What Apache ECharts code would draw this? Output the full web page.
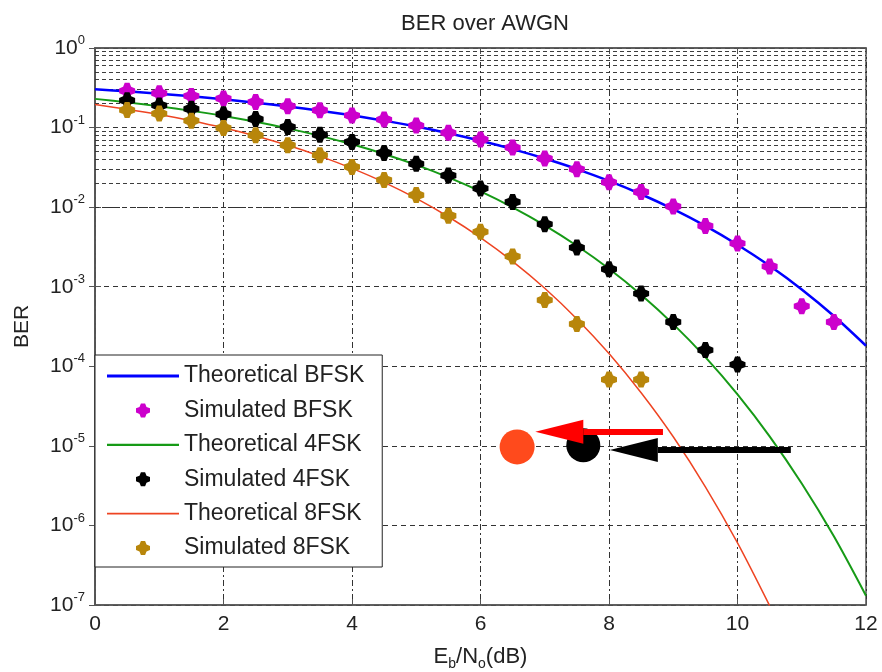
<!DOCTYPE html>
<html><head><meta charset="utf-8">
<script src="https://cdn.jsdelivr.net/npm/echarts@6/dist/echarts.min.js"></script>
<style>html,body{margin:0;padding:0;background:#fff}#c{width:882px;height:672px}</style>
</head><body><div id="c"></div><script>
// ---- data ----
const xTheory = [0,0.5,1,1.5,2,2.5,3,3.5,4,4.5,5,5.5,6,6.5,7,7.5,8,8.5,9,9.5,10,10.5,11,11.5,12];
const theoryBFSK = [0.3033,0.2853,0.2664,0.2467,0.2263,0.2055,0.1844,0.1632,0.1424,0.1222,0.1029,0.0848,0.0683,0.0536,0.0408,0.0301,0.02134,0.01452,0.00943,0.00581,0.003369,0.001831,0.000923,0.000428,0.000181];
const theory4FSK = [0.2294,0.2073,0.1847,0.1621,0.1399,0.1182,0.0977,0.0787,0.0616,0.0466,0.03395,0.02371,0.01579,0.00996,0.005912,0.003274,0.001683,0.000793,0.000339,0.0001304,4.437e-5,1.318e-5,3.37e-6,7.3e-7,1.31e-7];
const x8Theory = [0,0.5,1,1.5,2,2.5,3,3.5,4,4.5,5,5.5,6,6.5,7,7.5,8,8.5,9,9.5,10,10.5];
const theory8FSK = [0.1947,0.1700,0.1456,0.1217,0.0992,0.0783,0.0598,0.0438,0.0307,0.0205,0.01287,0.00757,0.00414,0.00208,0.000955,0.000393,0.0001444,4.65e-5,1.30e-5,3.06e-6,6.04e-7,9.8e-8];

const xSimBFSK = [0.5,1,1.5,2,2.5,3,3.5,4,4.5,5,5.5,6,6.5,7,7.5,8,8.5,9,9.5,10,10.5,11,11.5];
const simBFSK = [0.29,0.27,0.25,0.232,0.21,0.186,0.165,0.142,0.126,0.106,0.086,0.071,0.056,0.041,0.030,0.0205,0.0155,0.0102,0.0058,0.0035,0.0018,0.00057,0.00036];
const xSim4FSK = [0.5,1,1.5,2,2.5,3,3.5,4,4.5,5,5.5,6,6.5,7,7.5,8,8.5,9,9.5,10];
const sim4FSK = [0.22,0.19,0.172,0.147,0.128,0.102,0.081,0.066,0.048,0.035,0.025,0.0172,0.0116,0.0061,0.0031,0.00166,0.00082,0.00036,0.00016,0.000105];
const xSim8FSK = [0.5,1,1.5,2,2.5,3,3.5,4,4.5,5,5.5,6,6.5,7,7.5,8,8.5];
const sim8FSK = [0.166,0.15,0.122,0.099,0.08,0.06,0.045,0.032,0.022,0.0142,0.0078,0.0049,0.0024,0.00068,0.00034,0.000068,0.000068];

const redCircle = [6.57, 9.7e-6];
const blackCircle = [7.60, 1.02e-5];
const redArrow = {from: [8.84, 1.5e-5], to: [7.60, 1.5e-5]};     // 'to' = arrow-head base
const blackArrow = {from: [10.83, 8.9e-6], to: [8.76, 8.9e-6]};

const xTicks = [0, 2, 4, 6, 8, 10, 12];
const yDecades = [1e-7, 1e-6, 1e-5, 1e-4, 1e-3, 1e-2, 1e-1, 1];
const minorMult = [2, 3, 4, 5, 6, 7, 8, 9];

const legendNames = ['Theoretical BFSK','Simulated BFSK','Theoretical 4FSK','Simulated 4FSK','Theoretical 8FSK','Simulated 8FSK'];

// ---- build ----
const zip = (xs, ys) => xs.map((x, i) => [x, ys[i]]);
const minorGrid = [];
yDecades.slice(0, -1).forEach(d => minorMult.forEach(m => minorGrid.push({yAxis: +(d * m).toPrecision(3)})));

const MARK = 'path://M35,0 L65,0 L75,25 L100,35 L100,65 L75,75 L65,100 L35,100 L25,75 L0,65 L0,35 L25,25 Z';
const FONT = 'Liberation Sans';
const TXT = '#222';

function lineSeries(name, xs, ys, color, width) {
  return {name, type: 'line', data: zip(xs, ys), symbol: 'none', smooth: 0.3, z: 3,
    lineStyle: {color, width}, itemStyle: {color}, animation: false, silent: true};
}
function simSeries(name, xs, ys, color) {
  return {name, type: 'scatter', data: zip(xs, ys), symbol: MARK, symbolSize: 16, z: 4,
    itemStyle: {color, opacity: 1}, animation: false, silent: true};
}
function arrow(a, color, z) {
  return {silent: true, z, animation: false, symbol: ['none', 'none'], label: {show: false},
    lineStyle: {color, width: 6, type: 'solid', opacity: 1},
    data: [[{coord: a.from}, {coord: a.to, symbol: 'triangle', symbolSize: [24, 48], symbolOffset: [0, -24]}]]};
}
const lineIcon = h => 'path://M0,0 L100,0 L100,' + h + ' L0,' + h + ' Z';
const legendIcons = [lineIcon(4), MARK, lineIcon(3), MARK, lineIcon(2.2), MARK];

const chart = echarts.init(document.getElementById('c'));
chart.setOption({
  backgroundColor: '#fff',
  animation: false,
  textStyle: {fontFamily: FONT},
  title: {text: 'BER over AWGN', left: 480, top: 8, textAlign: 'center',
    textStyle: {fontFamily: FONT, fontSize: 22, fontWeight: 'normal', color: TXT}},
  grid: {left: 95, right: 16, top: 48, bottom: 67, outerBoundsMode: 'none', containLabel: false,
    show: true, borderColor: '#555', borderWidth: 1.5, backgroundColor: 'transparent'},
  legend: {
    orient: 'vertical', left: 95, top: 355, z: 20,
    data: legendNames.map((n, i) => ({name: n, icon: legendIcons[i]})),
    itemWidth: 72, itemHeight: 14, itemGap: 10.4,
    symbolKeepAspect: true,
    padding: [9, 18, 7, 12],
    backgroundColor: '#fff', borderColor: '#222', borderWidth: 1, borderRadius: 0,
    textStyle: {fontFamily: FONT, fontSize: 23, lineHeight: 24, color: TXT},
    selectedMode: false
  },
  xAxis: [{
    type: 'value', min: 0, max: 12, interval: 2,
    name: 'E{s|b}/N{s|o}(dB)', nameLocation: 'middle', nameGap: 38,
    nameTextStyle: {fontFamily: FONT, fontSize: 22, color: TXT, lineHeight: 28,
      rich: {s: {fontFamily: FONT, fontSize: 14, lineHeight: 14, verticalAlign: 'bottom', color: TXT}}},
    axisLine: {show: true, lineStyle: {color: '#555', width: 1.5}},
    axisTick: {show: true, inside: true, length: 6, lineStyle: {color: '#555'}},
    axisLabel: {fontFamily: FONT, fontSize: 21, color: TXT, margin: 9},
    splitLine: {show: true, lineStyle: {color: '#333', width: 1, type: [6, 3, 2, 3]}}
  }, {
    type: 'value', min: 0, max: 12, interval: 2, position: 'top',
    axisLine: {show: true, lineStyle: {color: '#555', width: 1.5}},
    axisTick: {show: true, inside: true, length: 6, lineStyle: {color: '#555'}},
    axisLabel: {show: false}, splitLine: {show: false}
  }],
  yAxis: [{
    type: 'log', logBase: 10, min: 1e-7, max: 1,
    name: 'BER', nameLocation: 'middle', nameGap: 62, nameRotate: 90,
    nameTextStyle: {fontFamily: FONT, fontSize: 21, color: TXT},
    axisLine: {show: true, lineStyle: {color: '#555', width: 1.5}},
    axisTick: {show: true, inside: true, length: 6, lineStyle: {color: '#555'}},
    axisLabel: {
      margin: 10,
      formatter: v => '{b|10}{s|' + Math.round(Math.log10(v)) + '}',
      rich: {
        b: {fontFamily: FONT, fontSize: 21, lineHeight: 28, color: TXT},
        s: {fontFamily: FONT, fontSize: 13, lineHeight: 13, verticalAlign: 'top', color: TXT}
      }
    },
    splitLine: {show: true, lineStyle: {color: '#333', width: 1, type: [5, 4]}}
  }, {
    type: 'log', logBase: 10, min: 1e-7, max: 1, position: 'right',
    axisLine: {show: true, lineStyle: {color: '#555', width: 1.5}},
    axisTick: {show: true, inside: true, length: 6, lineStyle: {color: '#555'}},
    axisLabel: {show: false}, splitLine: {show: false}
  }],
  series: [
    {name: '_grid', type: 'scatter', data: [], silent: true, z: 1,
      markLine: {silent: true, z: 1, animation: false, symbol: ['none', 'none'], label: {show: false},
        lineStyle: {color: '#333', width: 1, type: [4, 3], opacity: 0.95}, data: minorGrid}},
    lineSeries('Theoretical BFSK', xTheory, theoryBFSK, '#0000FF', 2.5),
    simSeries('Simulated BFSK', xSimBFSK, simBFSK, '#CC00CC'),
    lineSeries('Theoretical 4FSK', xTheory, theory4FSK, '#169A16', 2),
    simSeries('Simulated 4FSK', xSim4FSK, sim4FSK, '#000000'),
    lineSeries('Theoretical 8FSK', x8Theory, theory8FSK, '#EE4422', 1.5),
    simSeries('Simulated 8FSK', xSim8FSK, sim8FSK, '#B8860B'),
    {name: '_blackCircle', type: 'scatter', data: [blackCircle], symbol: 'circle', symbolSize: 34, z: 9,
      itemStyle: {color: '#000', opacity: 1}, silent: true, markLine: arrow(blackArrow, '#000', 10)},
    {name: '_redCircle', type: 'scatter', data: [redCircle], symbol: 'circle', symbolSize: 35, z: 11,
      itemStyle: {color: '#FF4A1C', opacity: 1}, silent: true, markLine: arrow(redArrow, '#FF0000', 12)}
  ]
});
</script></body></html>
